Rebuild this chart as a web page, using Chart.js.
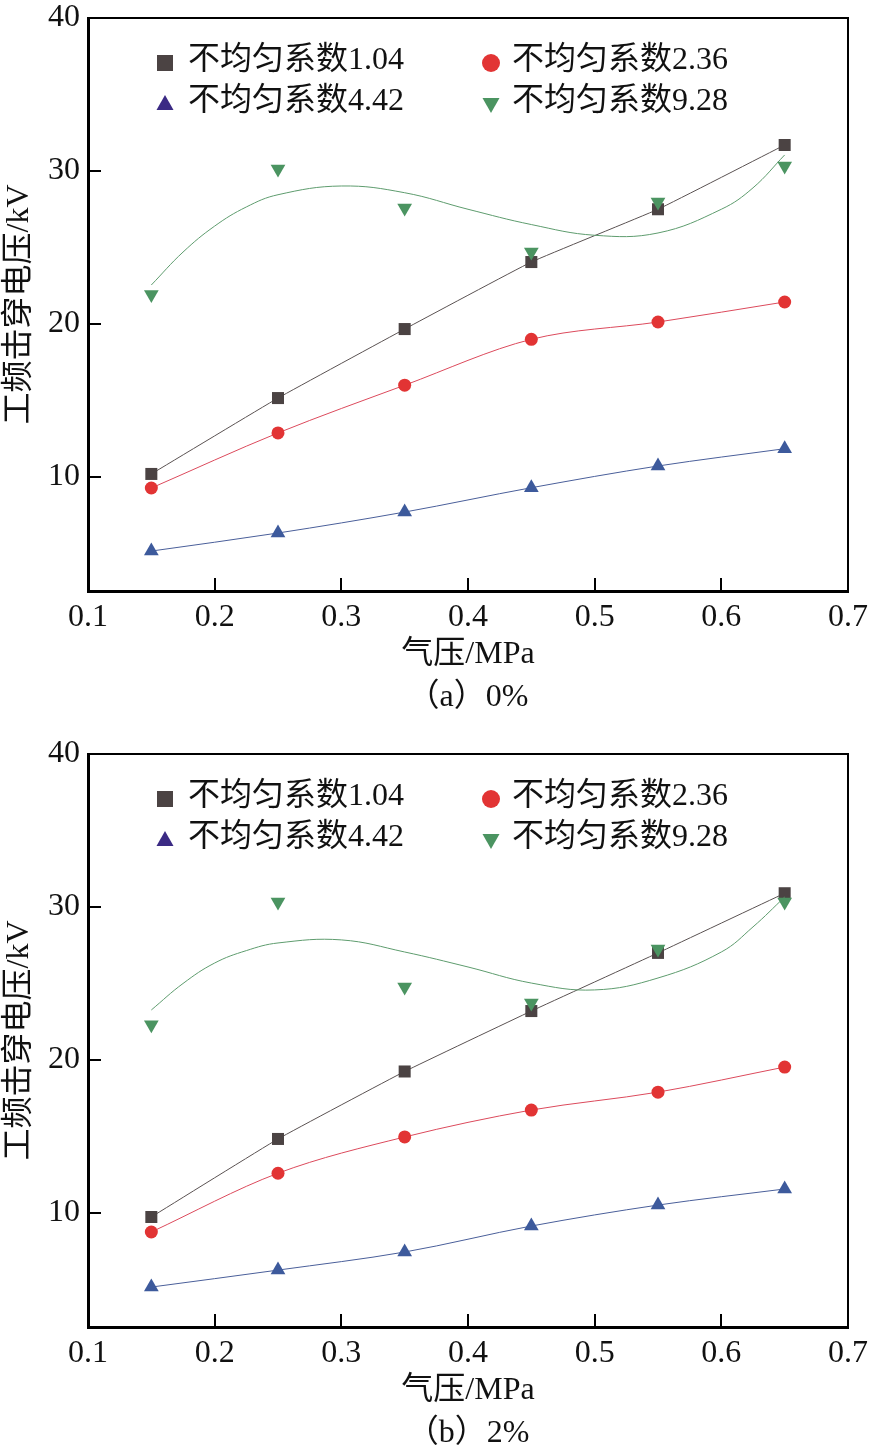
<!DOCTYPE html>
<html>
<head>
<meta charset="utf-8">
<script src="https://cdn.jsdelivr.net/npm/chart.js@4.4.1/dist/chart.umd.min.js"></script>
<style>
  body { margin: 0; background: #fff; }
  .panel { position: absolute; left: 0; width: 870px; height: 719px; }
</style>
</head>
<body>
<div class="panel" style="top:0"><canvas id="chartA" width="870" height="719"></canvas></div>
<div class="panel" style="top:736px"><canvas id="chartB" width="870" height="719"></canvas></div>
<script>
// Gas pressure (MPa) at which breakdown voltage was measured
const pressure = [0.15, 0.25, 0.35, 0.45, 0.55, 0.65];
const xTicks = [0.1, 0.2, 0.3, 0.4, 0.5, 0.6, 0.7];
const yTicks = [10, 20, 30, 40];
const seriesNames = ['不均匀系数1.04', '不均匀系数2.36', '不均匀系数4.42', '不均匀系数9.28'];

// (a) 0%
const a104 = [10.2, 15.16, 19.67, 24.05, 27.5, 31.7];
const a236 = [9.28, 12.88, 16.0, 19.0, 20.13, 21.44];
const a442 = [5.16, 6.34, 7.71, 9.3, 10.72, 11.85];
const a928 = [21.93, 30.13, 27.58, 24.7, 27.97, 30.33];

// green fitted curve
const fitPressure = [0.15, 0.175, 0.2, 0.225, 0.25, 0.3, 0.35, 0.4, 0.45, 0.5, 0.55, 0.6, 0.625, 0.65];
const aFit928 = [22.55, 24.7, 26.4, 27.65, 28.45, 29.02, 28.58, 27.5, 26.5, 25.8, 25.95, 27.5, 28.9, 31.05];

// (b) 2%
const b104 = [9.74, 14.84, 19.25, 23.2, 27.0, 30.9];
const b236 = [8.76, 12.6, 14.97, 16.73, 17.9, 19.54];
const b442 = [5.16, 6.27, 7.45, 9.15, 10.52, 11.57];
const b928 = [22.3, 30.33, 24.77, 23.73, 27.25, 30.33];
const bFit928 = [23.27, 25.0, 26.34, 27.15, 27.65, 27.85, 27.06, 26.08, 25.03, 24.58, 25.36, 27.06, 28.7, 30.65];

const FONT = "'Liberation Serif', 'Noto Sans CJK SC', serif";
const TEXT = '#111';
const toPts = (xs, ys) => xs.map((x, i) => ({ x: x, y: ys[i] }));

// legend marker shapes
function drawMark(ctx, shape, x, y) {
  ctx.beginPath();
  if (shape === 'rect') {
    ctx.rect(x - 8, y - 8, 16, 16);
  } else if (shape === 'circle') {
    ctx.arc(x, y, 9, 0, Math.PI * 2);
  } else if (shape === 'up') {
    ctx.moveTo(x, y - 9); ctx.lineTo(x + 8.5, y + 6); ctx.lineTo(x - 8.5, y + 6);
  } else {
    ctx.moveTo(x, y + 9); ctx.lineTo(x + 8.5, y - 6); ctx.lineTo(x - 8.5, y - 6);
  }
  ctx.closePath();
  ctx.fill();
}

// Legend drawn inside the plot box, two columns x two rows
const insideLegend = {
  id: 'insideLegend',
  afterDatasetsDraw(chart) {
    const { ctx, chartArea } = chart;
    const marks = [
      { shape: 'rect', color: '#4b4343' },
      { shape: 'circle', color: '#e23434' },
      { shape: 'up', color: '#3b2a84' },
      { shape: 'down', color: '#4b9461' }
    ];
    const markX = [77, 403], textX = [100, 424], rowY = [43, 84];
    ctx.save();
    ctx.font = '32px ' + FONT;
    ctx.textBaseline = 'middle';
    seriesNames.forEach((name, i) => {
      const col = i % 2, row = Math.floor(i / 2);
      const y = chartArea.top + rowY[row];
      ctx.fillStyle = marks[i].color;
      drawMark(ctx, marks[i].shape, chartArea.left + markX[col], y + 2);
      ctx.fillStyle = TEXT;
      ctx.fillText(name, chartArea.left + textX[col], y);
    });
    ctx.restore();
  }
};

function makeChart(id, caption, s104, s236, s442, s928, fit928) {
  const datasets = [
    { label: seriesNames[0], data: toPts(pressure, s104), showLine: true, tension: 0.1,
      borderColor: '#5a5252', borderWidth: 1, pointStyle: 'rect', pointRadius: 8.5,
      pointBackgroundColor: '#4b4343', pointBorderWidth: 0, order: 3 },
    { label: seriesNames[1], data: toPts(pressure, s236), showLine: true, cubicInterpolationMode: 'monotone',
      borderColor: '#dc4a5c', borderWidth: 1, pointStyle: 'circle', pointRadius: 6.5,
      pointBackgroundColor: '#e23434', pointBorderWidth: 0, order: 4 },
    { label: seriesNames[2], data: toPts(pressure, s442), showLine: true, cubicInterpolationMode: 'monotone',
      borderColor: '#4a5f9a', borderWidth: 1, pointStyle: 'triangle', pointRadius: 8.5,
      pointBackgroundColor: '#3d5a9c', pointBorderWidth: 0, order: 5 },
    { label: 'fit', data: toPts(fitPressure, fit928), showLine: true, tension: 0.4,
      borderColor: '#5e9c6e', borderWidth: 1, pointRadius: 0, order: 1 },
    { label: seriesNames[3], data: toPts(pressure, s928), showLine: false,
      pointStyle: 'triangle', pointRotation: 180, pointRadius: 8.5,
      pointBackgroundColor: '#4b9461', pointBorderWidth: 0, order: 0 }
  ];

  const tickFont = { family: FONT, size: 32 };
  new Chart(document.getElementById(id), {
    type: 'scatter',
    data: { datasets: datasets },
    plugins: [insideLegend],
    options: {
      responsive: false,
      animation: false,
      devicePixelRatio: 1,
      layout: { padding: { top: 18, right: 22, bottom: 0, left: 0 } },
      plugins: { legend: { display: false }, tooltip: { enabled: false } },
      scales: {
        x: {
          type: 'linear', position: 'bottom', min: 0.1, max: 0.7,
          afterBuildTicks: s => { s.ticks = xTicks.map(v => ({ value: v })); },
          afterFit: s => { s.height = 128; s.paddingLeft = 0; s.paddingRight = 0; },
          border: { color: '#000', width: 3 },
          grid: { drawOnChartArea: false, tickLength: -13, color: '#000', lineWidth: 2 },
          ticks: { color: TEXT, font: tickFont, padding: 20, maxRotation: 0, autoSkip: false,
                   callback: v => v.toFixed(1) },
          title: { display: true, text: ['气压/MPa', caption], color: TEXT,
                   font: { family: FONT, size: 32, lineHeight: 1.35 }, padding: 0 }
        },
        y: {
          type: 'linear', position: 'left', min: 2.55, max: 40,
          afterBuildTicks: s => { s.ticks = yTicks.map(v => ({ value: v })); },
          afterFit: s => { s.width = 88; s.paddingTop = 0; s.paddingBottom = 0; },
          border: { color: '#000', width: 3 },
          grid: { drawOnChartArea: false, tickLength: -13, color: '#000', lineWidth: 2 },
          ticks: { color: TEXT, font: tickFont, padding: 21 },
          title: { display: true, text: '工频击穿电压/kV', color: TEXT,
                   font: { family: FONT, size: 32 }, padding: 0 }
        },
        x2: {
          type: 'linear', position: 'top', min: 0.1, max: 0.7,
          grid: { display: false }, ticks: { display: false },
          border: { color: '#000', width: 2 },
          afterFit: s => { s.height = 0; }
        },
        y2: {
          type: 'linear', position: 'right', min: 2.55, max: 40,
          grid: { display: false }, ticks: { display: false },
          border: { color: '#000', width: 2 },
          afterFit: s => { s.width = 0; }
        }
      }
    }
  });
}

makeChart('chartA', '（a）0%', a104, a236, a442, a928, aFit928);
makeChart('chartB', '（b）2%', b104, b236, b442, b928, bFit928);
</script>
</body>
</html>
